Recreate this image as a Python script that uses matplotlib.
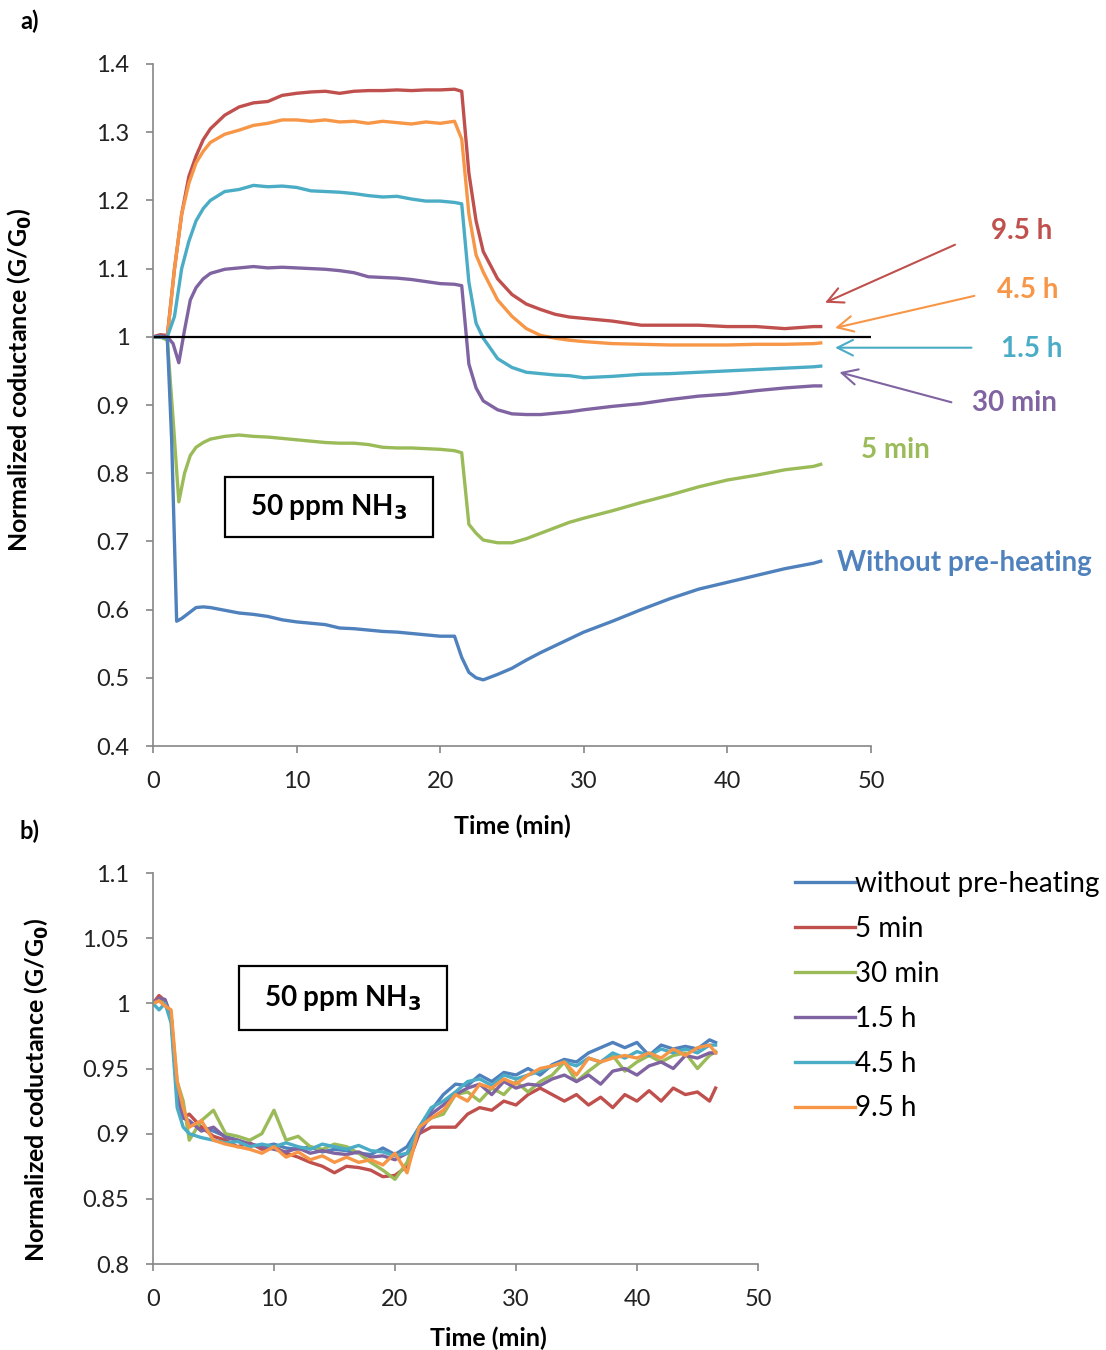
import numpy as np
import matplotlib
matplotlib.use('Agg')
import matplotlib.pyplot as plt
from matplotlib.ticker import FuncFormatter
from matplotlib.patches import Rectangle

plt.rcParams['font.family'] = ['Lato', 'DejaVu Sans']

# ---------------- panel a) data ----------------
t_a = [0, 0.5, 1, 1.5, 2, 2.5, 3, 3.5, 4, 5, 6, 7, 8, 9, 10, 11, 12, 13, 14, 15, 16, 17, 18, 19, 20, 21,
       21.5, 22, 22.5, 23, 24, 25, 26, 27, 28, 29, 30, 32, 34, 36, 38, 40, 42, 44, 46, 46.5]
g_95h = [1.0, 1.003, 1.002, 1.10, 1.18, 1.235, 1.265, 1.289, 1.305, 1.325, 1.337, 1.343, 1.345, 1.354, 1.357,
         1.359, 1.36, 1.357, 1.36, 1.361, 1.361, 1.362, 1.361, 1.362, 1.362, 1.363,
         1.36, 1.24, 1.17, 1.125, 1.085, 1.062, 1.048, 1.04, 1.033, 1.029, 1.027, 1.023, 1.017, 1.017,
         1.017, 1.015, 1.015, 1.012, 1.015, 1.015]
g_45h = [1.0, 1.0, 1.0, 1.10, 1.18, 1.225, 1.255, 1.272, 1.285, 1.297, 1.303, 1.31, 1.313, 1.318, 1.318,
         1.316, 1.318, 1.315, 1.316, 1.313, 1.316, 1.314, 1.312, 1.315, 1.313, 1.316,
         1.29, 1.18, 1.12, 1.095, 1.054, 1.03, 1.012, 1.002, 0.998, 0.995, 0.993, 0.99, 0.989, 0.988,
         0.988, 0.988, 0.989, 0.989, 0.99, 0.991]
g_15h = [1.0, 0.999, 1.0, 1.03, 1.10, 1.14, 1.17, 1.188, 1.20, 1.213, 1.216, 1.222, 1.22, 1.221, 1.219,
         1.214, 1.213, 1.212, 1.21, 1.207, 1.205, 1.206, 1.202, 1.199, 1.199, 1.197,
         1.195, 1.08, 1.02, 0.998, 0.968, 0.955, 0.948, 0.946, 0.944, 0.943, 0.94, 0.942, 0.945, 0.946,
         0.948, 0.95, 0.952, 0.954, 0.956, 0.957]

t_b = [0, 0.5, 1, 1.4, 1.8, 2.2, 2.6, 3, 3.5, 4, 5, 6, 7, 8, 9, 10, 11, 12, 13, 14, 15, 16, 17, 18, 19, 20, 21,
       21.5, 22, 22.5, 23, 24, 25, 26, 27, 28, 29, 30, 32, 34, 36, 38, 40, 42, 44, 46, 46.5]
g_30m = [1.0, 1.001, 1.0, 0.99, 0.962, 1.01, 1.054, 1.072, 1.085, 1.093, 1.099, 1.101, 1.103, 1.101, 1.102,
         1.101, 1.1, 1.099, 1.097, 1.094, 1.088, 1.087, 1.086, 1.084, 1.081, 1.078, 1.077,
         1.075, 0.96, 0.925, 0.906, 0.893, 0.887, 0.886, 0.886, 0.888, 0.89, 0.893, 0.898, 0.902, 0.908,
         0.913, 0.916, 0.921, 0.925, 0.928, 0.928]
g_5m = [1.0, 1.0, 0.995, 0.88, 0.758, 0.80, 0.826, 0.838, 0.845, 0.85, 0.854, 0.856, 0.854, 0.853, 0.851,
        0.849, 0.847, 0.845, 0.844, 0.844, 0.842, 0.838, 0.837, 0.837, 0.836, 0.835, 0.833,
        0.83, 0.725, 0.712, 0.702, 0.698, 0.698, 0.704, 0.712, 0.72, 0.728, 0.734, 0.745, 0.757, 0.768,
        0.78, 0.79, 0.797, 0.805, 0.81, 0.813]

t_c = [0, 0.5, 1, 1.3, 1.65, 2, 2.5, 3, 3.5, 4, 5, 6, 7, 8, 9, 10, 11, 12, 13, 14, 15, 16, 17, 18, 19, 20, 21,
       21.5, 22, 22.5, 23, 24, 25, 26, 27, 28, 29, 30, 32, 34, 36, 38, 40, 42, 44, 46, 46.5]
g_none = [1.0, 1.0, 0.998, 0.85, 0.583, 0.587, 0.595, 0.603, 0.604, 0.603, 0.599, 0.595, 0.593, 0.59, 0.585,
          0.582, 0.58, 0.578, 0.573, 0.572, 0.57, 0.568, 0.567, 0.565, 0.563, 0.561, 0.561,
          0.53, 0.508, 0.5, 0.497, 0.505, 0.514, 0.526, 0.537, 0.547, 0.557, 0.567, 0.583, 0.6, 0.616,
          0.63, 0.64, 0.65, 0.66, 0.668, 0.671]

# ---------------- panel b) data ----------------
t_d = [0, 0.5, 1, 1.5, 2, 2.5, 3] + list(range(4, 47)) + [46.5]
b_none = [1.0, 1.003, 1.0, 0.99, 0.93, 0.915, 0.908,
          0.905, 0.902, 0.898, 0.895, 0.892, 0.89, 0.892, 0.889, 0.888, 0.89, 0.886, 0.888, 0.887, 0.885,
          0.884, 0.889, 0.884, 0.89, 0.905, 0.918, 0.93, 0.938, 0.937, 0.945, 0.94, 0.947, 0.945, 0.95,
          0.945, 0.953, 0.957, 0.955, 0.962, 0.966, 0.97, 0.966, 0.97, 0.96, 0.968, 0.965, 0.967, 0.965,
          0.972, 0.97]
b_5m = [1.0, 1.006, 1.002, 0.99, 0.93, 0.912, 0.915,
        0.905, 0.898, 0.895, 0.89, 0.893, 0.888, 0.89, 0.885, 0.882, 0.878, 0.875, 0.87, 0.875, 0.874,
        0.872, 0.867, 0.868, 0.875, 0.9, 0.905, 0.905, 0.905, 0.915, 0.92, 0.918, 0.925, 0.922, 0.93,
        0.935, 0.93, 0.925, 0.93, 0.922, 0.928, 0.92, 0.93, 0.925, 0.933, 0.925, 0.935, 0.93, 0.932,
        0.925, 0.935]
b_30m = [1.0, 1.002, 1.0, 0.99, 0.94, 0.925, 0.895,
         0.91, 0.918, 0.9, 0.898, 0.895, 0.9, 0.918, 0.895, 0.898, 0.89, 0.888, 0.892, 0.89, 0.885,
         0.878, 0.872, 0.865, 0.878, 0.905, 0.912, 0.915, 0.93, 0.932, 0.925, 0.935, 0.93, 0.94, 0.932,
         0.94, 0.945, 0.955, 0.94, 0.948, 0.955, 0.96, 0.948, 0.955, 0.96, 0.955, 0.96, 0.962, 0.95,
         0.96, 0.963]
b_15h = [1.0, 1.004, 1.003, 0.99, 0.93, 0.912, 0.91,
         0.902, 0.905, 0.897, 0.895, 0.892, 0.89, 0.888, 0.886, 0.889, 0.885, 0.887, 0.885, 0.884, 0.886,
         0.882, 0.883, 0.88, 0.885, 0.9, 0.915, 0.922, 0.93, 0.935, 0.938, 0.93, 0.94, 0.935, 0.938,
         0.937, 0.942, 0.945, 0.94, 0.945, 0.938, 0.948, 0.95, 0.945, 0.952, 0.955, 0.95, 0.96, 0.958,
         0.962, 0.962]
b_45h = [1.0, 0.995, 1.0, 0.985, 0.92, 0.905, 0.9,
         0.897, 0.895, 0.893, 0.894, 0.89, 0.892, 0.89, 0.893, 0.89, 0.888, 0.892, 0.89, 0.888, 0.891,
         0.887, 0.886, 0.883, 0.885, 0.905, 0.92, 0.925, 0.932, 0.94, 0.942, 0.937, 0.945, 0.942, 0.945,
         0.948, 0.952, 0.955, 0.952, 0.958, 0.955, 0.962, 0.958, 0.963, 0.96, 0.965, 0.962, 0.965, 0.962,
         0.968, 0.968]
b_95h = [1.0, 1.002, 0.998, 0.995, 0.94, 0.92, 0.905,
         0.91, 0.895, 0.892, 0.89, 0.888, 0.885, 0.89, 0.882, 0.886, 0.88, 0.883, 0.878, 0.882, 0.878,
         0.88, 0.876, 0.885, 0.87, 0.905, 0.912, 0.918, 0.93, 0.925, 0.938, 0.935, 0.942, 0.938, 0.945,
         0.95, 0.952, 0.955, 0.945, 0.958, 0.955, 0.958, 0.96, 0.958, 0.962, 0.958, 0.965, 0.96, 0.966,
         0.968, 0.962]

blue, red, green, purple, teal, orange = '#4F81BD', '#C0504D', '#9BBB59', '#8064A2', '#4BACC6', '#F79646'
spine_c = '#868686'

fig = plt.figure(figsize=(11.06, 13.5), dpi=100)
ax1 = fig.add_axes([0.1383, 0.4474, 0.6492, 0.5052])
ax2 = fig.add_axes([0.1383, 0.0637, 0.547, 0.2896])


def style(ax):
    for s in ['top', 'right']:
        ax.spines[s].set_visible(False)
    for s in ['left', 'bottom']:
        ax.spines[s].set_color(spine_c)
        ax.spines[s].set_linewidth(1.2)
    ax.tick_params(axis='both', direction='out', length=5, width=1.2, color=spine_c,
                   labelsize=17, labelcolor='#222222')
    ax.tick_params(axis='x', pad=13)
    ax.tick_params(axis='y', pad=12)
    ax.yaxis.set_major_formatter(FuncFormatter(lambda v, p: f'{v:g}'))


def nh3_box(ax, x0, y0, x1, y1):
    ax.add_patch(Rectangle((x0, y0), x1 - x0, y1 - y0, transform=ax.transAxes,
                           fc='white', ec='black', lw=1.6, zorder=5))
    ax.text((x0 + x1) / 2, (y0 + y1) / 2, '50 ppm NH$_\\mathbf{3}$', transform=ax.transAxes,
            fontsize=20, fontweight='bold', ha='center', va='center', zorder=6)


lw = 2.4
ax1.plot(t_a, g_95h, color=red, lw=lw)
ax1.plot(t_a, g_45h, color=orange, lw=lw)
ax1.plot(t_a, g_15h, color=teal, lw=lw)
ax1.plot(t_b, g_30m, color=purple, lw=lw)
ax1.plot(t_b, g_5m, color=green, lw=lw)
ax1.plot(t_c, g_none, color=blue, lw=lw)
ax1.axhline(1.0, color='black', lw=1.6)
ax1.set_xlim(0, 50)
ax1.set_ylim(0.4, 1.4)
ax1.set_xticks(np.arange(0, 51, 10))
ax1.set_yticks(np.arange(0.4, 1.41, 0.1))
style(ax1)
ax1.set_xlabel('Time (min)', fontsize=18, fontweight='bold')
ax1.set_ylabel('Normalized coductance (G/G$_\\mathbf{0}$)', fontsize=18, fontweight='bold')
ax1.xaxis.set_label_coords(0.5, -0.101)
ax1.yaxis.set_label_coords(-0.166, 0.537)
nh3_box(ax1, 0.1003, 0.3065, 0.39, 0.3944)

# labels with arrows
arr = dict(arrowstyle='->', lw=1.5, mutation_scale=28, shrinkA=0, shrinkB=0)
ax1.annotate('', xy=(46.8, 1.05), xytext=(55.85, 1.135), arrowprops=dict(arr, color=red), annotation_clip=False)
ax1.annotate('', xy=(47.5, 1.013), xytext=(57.2, 1.06), arrowprops=dict(arr, color=orange), annotation_clip=False)
ax1.annotate('', xy=(47.5, 0.984), xytext=(57.0, 0.984), arrowprops=dict(arr, color=teal), annotation_clip=False)
ax1.annotate('', xy=(47.8, 0.948), xytext=(55.6, 0.904), arrowprops=dict(arr, color=purple), annotation_clip=False)
lab = dict(fontsize=20, fontweight='bold', ha='center', va='center', clip_on=False)
ax1.text(60.5, 1.155, '9.5 h', color=red, **lab)
ax1.text(60.9, 1.069, '4.5 h', color=orange, **lab)
ax1.text(61.2, 0.982, '1.5 h', color=teal, **lab)
ax1.text(60.0, 0.903, '30 min', color=purple, **lab)
ax1.text(51.7, 0.834, '5 min', color=green, **lab)
ax1.text(56.5, 0.668, 'Without pre-heating', color=blue, **lab)

# panel b
ax2.plot(t_d, b_none, color=blue, lw=lw, label='without pre-heating')
ax2.plot(t_d, b_5m, color=red, lw=lw, label='5 min')
ax2.plot(t_d, b_30m, color=green, lw=lw, label='30 min')
ax2.plot(t_d, b_15h, color=purple, lw=lw, label='1.5 h')
ax2.plot(t_d, b_45h, color=teal, lw=lw, label='4.5 h')
ax2.plot(t_d, b_95h, color=orange, lw=lw, label='9.5 h')
ax2.set_xlim(0, 50)
ax2.set_ylim(0.8, 1.1)
ax2.set_xticks(np.arange(0, 51, 10))
ax2.set_yticks(np.arange(0.8, 1.101, 0.05))
style(ax2)
ax2.set_xlabel('Time (min)', fontsize=18, fontweight='bold')
ax2.set_ylabel('Normalized coductance (G/G$_\\mathbf{0}$)', fontsize=18, fontweight='bold')
ax2.xaxis.set_label_coords(0.554, -0.159)
ax2.yaxis.set_label_coords(-0.169, 0.445)
nh3_box(ax2, 0.142, 0.598, 0.486, 0.762)
ax2.legend(loc='upper left', bbox_to_anchor=(0.7192, 1 - 871 / 1350), bbox_transform=fig.transFigure,
           frameon=False, fontsize=20, handlelength=2.16, handletextpad=0.0, labelspacing=0.68,
           borderaxespad=0, borderpad=0)

fig.text(0.027, 0.984, 'a)', fontsize=17, fontweight='bold', ha='center', va='center')
fig.text(0.027, 0.384, 'b)', fontsize=17, fontweight='bold', ha='center', va='center')

fig.savefig('out.png', dpi=100)
